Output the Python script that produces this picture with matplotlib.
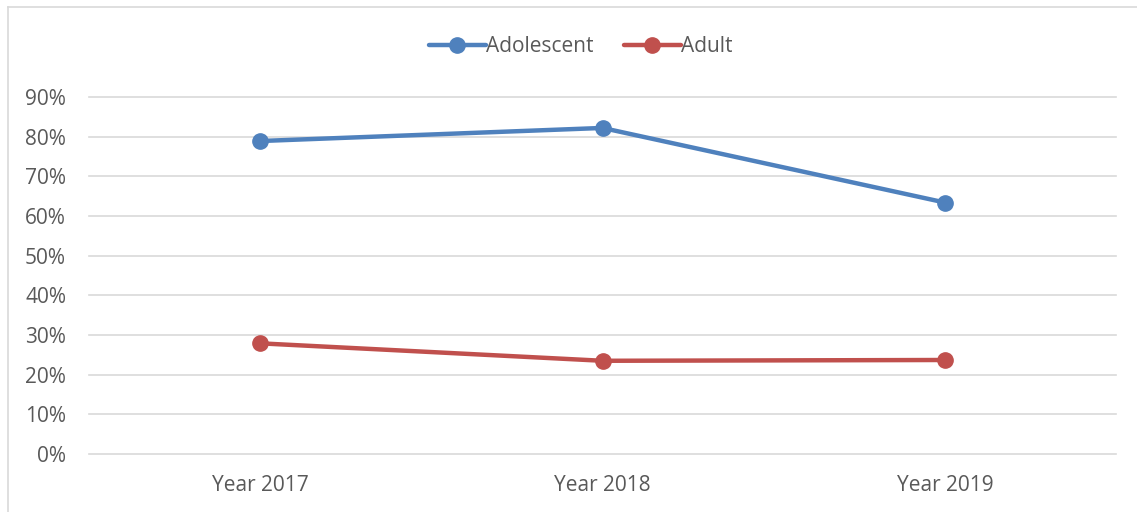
import matplotlib.pyplot as plt
from matplotlib.ticker import PercentFormatter
from matplotlib.lines import Line2D

categories = ['Year 2017', 'Year 2018', 'Year 2019']
adolescent = [0.789, 0.822, 0.634]
adult = [0.279, 0.235, 0.237]
y_ticks = [0.0, 0.1, 0.2, 0.3, 0.4, 0.5, 0.6, 0.7, 0.8, 0.9]

plt.rcParams['font.family'] = ['Open Sans', 'DejaVu Sans']
text_color = '#595959'

fig = plt.figure(figsize=(11.37, 5.12), dpi=100)
ax = fig.add_axes([89 / 1137, 1 - 454 / 512, 1027 / 1137, 357 / 512])

x = range(len(categories))
ax.plot(x, adolescent, color='#4F81BD', lw=3.2, marker='o', markersize=11,
        solid_capstyle='round', label='Adolescent')
ax.plot(x, adult, color='#C0504D', lw=3.2, marker='o', markersize=11,
        solid_capstyle='round', label='Adult')

ax.set_xlim(-0.5, 2.5)
ax.set_ylim(0, 0.9)
ax.set_yticks(y_ticks)
ax.yaxis.set_major_formatter(PercentFormatter(1.0, decimals=0))
ax.set_xticks(list(x))
ax.set_xticklabels(categories)
ax.grid(axis='y', color='#D9D9D9', lw=1.2)
ax.set_axisbelow(True)
for line in ax.get_ygridlines():
    line.set_clip_on(False)
for s in ax.spines.values():
    s.set_visible(False)
ax.tick_params(length=0, labelsize=15, colors=text_color)
ax.tick_params(axis='y', pad=16.5)
ax.tick_params(axis='x', pad=15)

ax.legend(loc='center', bbox_to_anchor=(1 - 579 / 1137 + 0.02, 1 - 47 / 512),
          bbox_transform=fig.transFigure,
          ncol=2, frameon=False, fontsize=15, labelcolor=text_color,
          handlelength=2.7, handletextpad=0.0, columnspacing=1.5)

# chart border (left and top visible)
fig.add_artist(Line2D([8 / 1137, 8 / 1137], [0, 1 - 7 / 512], color='#D9D9D9', lw=1.2))
fig.add_artist(Line2D([8 / 1137, 1], [1 - 7 / 512, 1 - 7 / 512], color='#D9D9D9', lw=1.2))

fig.savefig('out.png', dpi=100)
